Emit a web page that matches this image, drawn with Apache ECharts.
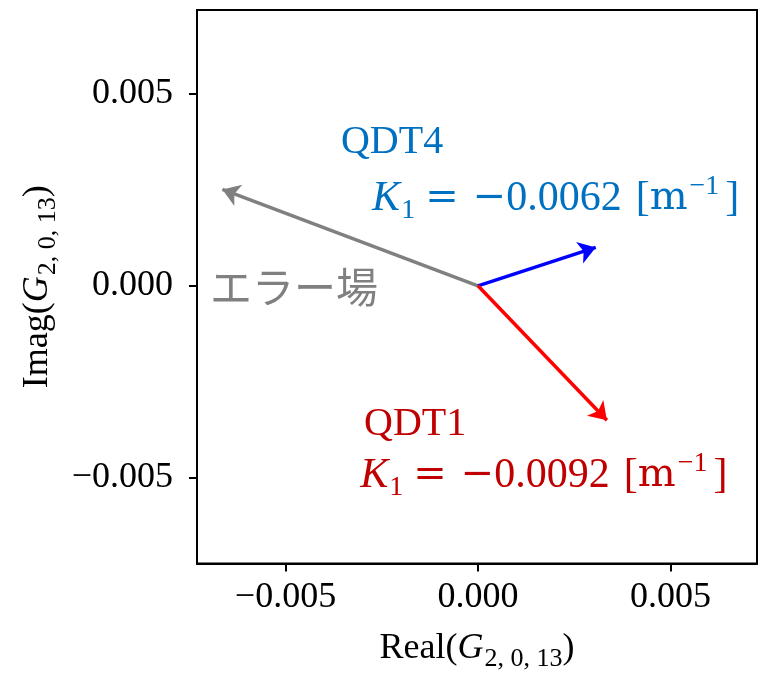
<!DOCTYPE html>
<html><head><meta charset="utf-8">
<script src="https://cdn.jsdelivr.net/npm/echarts@6/dist/echarts.min.js"></script>
<style>html,body{margin:0;padding:0;background:#fff}#c{width:768px;height:677px}</style>
</head><body><div id="c"></div>
<script>
// ---- data ----
const fieldNames = ['エラー場', 'QDT4', 'QDT1'];
const realParts = [-0.00664, 0.00306, 0.00335];
const imagParts = [0.00251, 0.00100, -0.00350];
const tickValues = [-0.005, 0, 0.005];
const k1Texts = ['−0.0062', '−0.0092']; // QDT4, QDT1
const k1Unit = 'm';

// ---- styles / layout ----
const arrowColors = ['#808080', '#0000ff', '#ff0000'];
const textColors = { err: '#808080', qdt4: '#0070c0', qdt1: '#c00000' };
const SERIF = '"Liberation Serif", "Times New Roman", serif';
const DSERIF = '"DejaVu Serif", serif';
const CJK = '"Noto Sans CJK JP", "Noto Sans CJK SC", sans-serif';
const annotationAnchors = {
  err: [-0.00696, -0.00003],
  qdt4Name: [-0.00356, 0.00372],
  qdt4K: [-0.00275, 0.00227],
  qdt1Name: [-0.00296, -0.00361],
  qdt1K: [-0.00306, -0.00494]
};

function fmt(v) {
  if (Math.abs(v) < 1e-12) return '0.000';
  return (v < 0 ? '−' : '') + Math.abs(v).toFixed(3);
}

const chart = echarts.init(document.getElementById('c'), null, { renderer: 'canvas' });

const arrowData = fieldNames.map((n, i) => ({
  name: n,
  coords: [[0, 0], [realParts[i], imagParts[i]]],
  lineStyle: { color: arrowColors[i], width: 3.5, opacity: 1 }
}));

const axisNameRich = {
  a: { fontFamily: SERIF, fontSize: 36, lineHeight: 40, color: '#000' },
  g: { fontFamily: SERIF, fontSize: 36, fontStyle: 'italic', lineHeight: 40, color: '#000' },
  s: { fontFamily: SERIF, fontSize: 26, lineHeight: 40, padding: [21, 0, 0, 1], color: '#000' }
};
const gLabel = '{g|G}{s|2, 0, 13}{a|)}';

chart.setOption({
  animation: false,
  backgroundColor: '#fff',
  grid: { left: 197, top: 10, width: 560, height: 556, show: true, borderColor: '#000', borderWidth: 2, backgroundColor: 'transparent' },
  xAxis: {
    type: 'value', min: -0.0073, max: 0.00725,
    axisLine: { onZero: false, lineStyle: { color: '#000', width: 2 } },
    axisTick: { show: true, length: 8, customValues: tickValues, lineStyle: { color: '#000', width: 2 } },
    axisLabel: { customValues: tickValues, formatter: fmt, margin: 16, fontFamily: SERIF, fontSize: 36, color: '#000' },
    splitLine: { show: false },
    name: '{a|Real(}' + gLabel, nameLocation: 'middle', nameGap: 65,
    nameTextStyle: { rich: axisNameRich }
  },
  yAxis: {
    type: 'value', min: -0.00723, max: 0.00718,
    axisLine: { onZero: false, lineStyle: { color: '#000', width: 2 } },
    axisTick: { show: true, length: 8, customValues: tickValues, lineStyle: { color: '#000', width: 2 } },
    axisLabel: { customValues: tickValues, formatter: fmt, margin: 24, fontFamily: SERIF, fontSize: 36, color: '#000' },
    splitLine: { show: false },
    name: '{a|Imag(}' + gLabel, nameLocation: 'middle', nameGap: 136, nameRotate: 90,
    nameTextStyle: { rich: axisNameRich }
  },
  series: [{
    type: 'lines',
    coordinateSystem: 'cartesian2d',
    symbol: ['none', 'arrow'],
    symbolSize: 17,
    lineStyle: { width: 3.5, opacity: 1, curveness: 0 },
    data: arrowData,
    z: 5
  }]
});

function px(p) { return chart.convertToPixel({ gridIndex: 0 }, p); }

function kLine(anchor, value, color) {
  const p = px(anchor);
  const LH = 44;
  const sign = value.charAt(0), digits = value.slice(1);
  return {
    type: 'text', x: p[0], y: p[1], z: 10,
    style: {
      text: '{k|K}{s|1}{e|=}{m|' + sign + '}{d|' + digits + '}{b|[}{u|' + k1Unit + '}{p|−1}{c|]}',
      align: 'left', verticalAlign: 'middle', fill: color,
      rich: {
        k: { fontFamily: SERIF, fontSize: 42, fontStyle: 'italic', lineHeight: LH, fill: color },
        s: { fontFamily: SERIF, fontSize: 28, lineHeight: LH, padding: [25, 0, 0, 1], fill: color },
        e: { fontFamily: DSERIF, fontSize: 40, lineHeight: LH, padding: [0, 14, 0, 10], fill: color },
        m: { fontFamily: DSERIF, fontSize: 40, lineHeight: LH, fill: color },
        d: { fontFamily: SERIF, fontSize: 42, lineHeight: LH, padding: [0, 0, 0, 0], fill: color },
        b: { fontFamily: SERIF, fontSize: 42, lineHeight: LH, padding: [0, 0, 0, 14], fill: color },
        u: { fontFamily: DSERIF, fontSize: 40, lineHeight: LH, fill: color },
        p: { fontFamily: SERIF, fontSize: 28, lineHeight: LH, padding: [0, 0, 24, 2], fill: color },
        c: { fontFamily: SERIF, fontSize: 42, lineHeight: LH, padding: [0, 0, 0, 6], fill: color }
      }
    }
  };
}

function nameText(anchor, text, color, font, size) {
  const p = px(anchor);
  return {
    type: 'text', x: p[0], y: p[1], z: 10,
    style: { text: text, fill: color, fontFamily: font, fontSize: size, align: 'left', verticalAlign: 'middle' }
  };
}

chart.setOption({
  graphic: [
    nameText(annotationAnchors.err, fieldNames[0], textColors.err, CJK, 42),
    nameText(annotationAnchors.qdt4Name, fieldNames[1], textColors.qdt4, SERIF, 40),
    kLine(annotationAnchors.qdt4K, k1Texts[0], textColors.qdt4),
    nameText(annotationAnchors.qdt1Name, fieldNames[2], textColors.qdt1, SERIF, 40),
    kLine(annotationAnchors.qdt1K, k1Texts[1], textColors.qdt1)
  ]
});
</script>
</body></html>
